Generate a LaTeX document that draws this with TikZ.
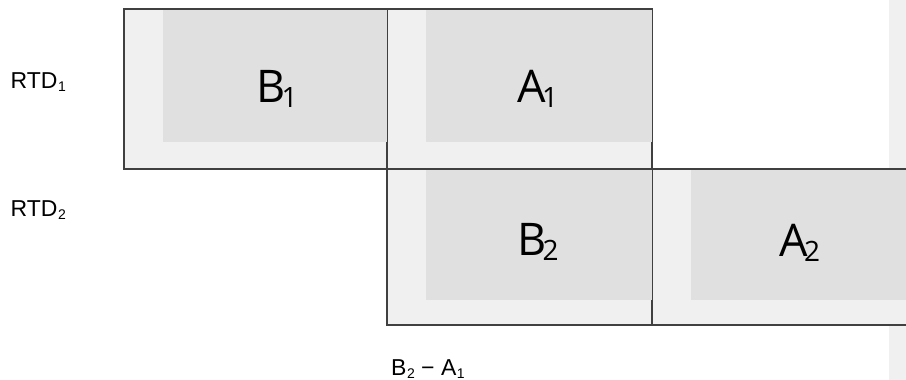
\documentclass[tikz,border=0pt]{standalone}
\usepackage{fontspec}
\setmainfont{Liberation Sans}
\newfontfamily\bigfont{Open Sans}
\definecolor{outerfill}{HTML}{F0F0F0}
\definecolor{innerfill}{HTML}{DFE0DF}
\definecolor{edge}{HTML}{404040}
\newcommand{\bigsub}[2]{{\bigfont\fontsize{45}{45}\selectfont #1\kern-4pt\raisebox{-5pt}{\fontsize{28}{28}\selectfont #2}}}
\newcommand{\smallsub}[2]{{\fontsize{23}{23}\selectfont #1\kern0.5pt\raisebox{-3pt}{\fontsize{14}{14}\selectfont #2}}}
\begin{document}
\begin{tikzpicture}[x=1pt,y=-1pt,
  cellbox/.style={draw=edge,line width=2pt,fill=outerfill,rectangle,inner sep=0pt},
  innerbox/.style={fill=innerfill},
  bigtext/.style={anchor=base,inner sep=0pt,text=black},
  labeltext/.style={anchor=base west,inner sep=0pt,text=black}]
\useasboundingbox (0,0) rectangle (906,380);
% right strip
\fill[outerfill] (889,-1) rectangle (907,381);
% outer cells
\draw[cellbox] (124,9) rectangle (387,168.5);
\draw[cellbox] (387,9) rectangle (652,168.5);
\draw[cellbox] (387,168.5) rectangle (652,325);
\draw[cellbox] (652,168.5) rectangle (912,325);
% inner fills
\fill[innerbox] (163,10) rectangle (387,142);
\fill[innerbox] (426,10) rectangle (652,142);
\fill[innerbox] (426,169.5) rectangle (652,300);
\fill[innerbox] (691,169.5) rectangle (912,300);
% big texts
\node[bigtext] (tb1) at (277,102) {\bigsub{B}{1}};
\node[bigtext] (ta1) at (538,102) {\bigsub{A}{1}};
\node[bigtext] (tb2) at (538,255) {\bigsub{B}{2}};
\node[bigtext] (ta2) at (800,256) {\bigsub{A}{2}};
% labels
\node[labeltext] (rtd1) at (10.5,88) {\smallsub{RTD}{1}};
\node[labeltext] (rtd2) at (10.5,216) {\smallsub{RTD}{2}};
\node[labeltext] (diff) at (391,375) {\smallsub{B}{2}\fontsize{23}{23}\selectfont\ −\ \smallsub{A}{1}};
\end{tikzpicture}
\end{document}
